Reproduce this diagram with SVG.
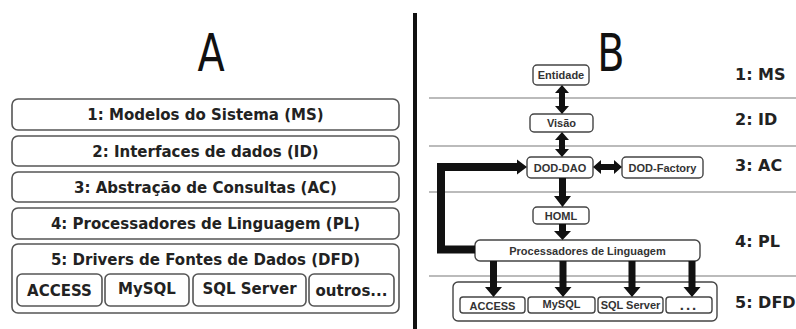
<svg xmlns="http://www.w3.org/2000/svg" width="796" height="329" viewBox="0 0 796 329">
<style>
.bg{fill:#fff}
.lbox{fill:#fff;stroke:#555;stroke-width:1.6}
.ltxt{font-family:"DejaVu Sans",Verdana,sans-serif;font-weight:bold;font-size:15px;fill:#222;text-anchor:middle}
.sbox{fill:#fff;stroke:#444;stroke-width:1.4}
.stxt{font-family:"Liberation Sans",Arial,sans-serif;font-weight:bold;font-size:11px;fill:#333;text-anchor:middle}
.rlab{font-family:"DejaVu Sans",Verdana,sans-serif;font-weight:bold;font-size:16px;fill:#222}
.big{font-family:"DejaVu Sans Condensed","Liberation Sans",sans-serif;font-size:52px;fill:#111;text-anchor:middle}
.sep{stroke:#bbb;stroke-width:2}
.arr{fill:#111}
</style>
<rect class="bg" x="0" y="0" width="796" height="329"/>
<line x1="415" y1="13" x2="415" y2="329" stroke="#111" stroke-width="4"/>
<text class="big" x="211" y="71" transform="translate(211,0) scale(0.85,1) translate(-211,0)">A</text>
<text class="big" x="611" y="71" transform="translate(611,0) scale(0.85,1) translate(-611,0)">B</text>

<g id="panelA">
  <g id="a-ms"><rect class="lbox" x="12" y="99" width="387" height="31" rx="6"/><text class="ltxt" x="205.5" y="120">1: Modelos do Sistema (MS)</text></g>
  <g id="a-id"><rect class="lbox" x="12" y="136" width="387" height="30" rx="6"/><text class="ltxt" x="205.5" y="156.5">2: Interfaces de dados (ID)</text></g>
  <g id="a-ac"><rect class="lbox" x="12" y="172" width="387" height="30" rx="6"/><text class="ltxt" x="205.5" y="192.5">3: Abstração de Consultas (AC)</text></g>
  <g id="a-pl"><rect class="lbox" x="12" y="208" width="387" height="31" rx="6"/><text class="ltxt" x="205.5" y="229">4: Processadores de Linguagem (PL)</text></g>
  <g id="a-dfd"><rect class="lbox" x="12" y="244" width="387" height="69" rx="6"/><text class="ltxt" x="205.5" y="264.5">5: Drivers de Fontes de Dados (DFD)</text></g>
  <g id="a-access"><rect class="lbox" x="17" y="274" width="85" height="32" rx="5"/><text class="ltxt" x="59.5" y="295.5">ACCESS</text></g>
  <g id="a-mysql"><rect class="lbox" x="105" y="274" width="84" height="32" rx="5"/><text class="ltxt" x="147" y="294">MySQL</text></g>
  <g id="a-sqlserver"><rect class="lbox" x="193" y="274" width="113" height="32" rx="5"/><text class="ltxt" x="249.5" y="294">SQL Server</text></g>
  <g id="a-outros"><rect class="lbox" x="309" y="274" width="85" height="32" rx="5"/><text class="ltxt" x="351.5" y="295.5">outros...</text></g>
</g>

<g id="separators">
  <line class="sep" x1="429" y1="98" x2="796" y2="98"/>
  <line class="sep" x1="429" y1="146" x2="796" y2="146"/>
  <line class="sep" x1="429" y1="192" x2="796" y2="192"/>
  <line class="sep" x1="429" y1="276" x2="796" y2="276"/>
</g>

<g id="layer-labels">
  <text class="rlab" x="735" y="80">1: MS</text>
  <text class="rlab" x="735" y="125">2: ID</text>
  <text class="rlab" x="735" y="171">3: AC</text>
  <text class="rlab" x="735" y="247">4: PL</text>
  <text class="rlab" x="735" y="308">5: DFD</text>
</g>

<g id="panelB">
  <g id="b-entidade"><rect class="sbox" x="533" y="65" width="56" height="20" rx="4"/><text class="stxt" x="561" y="79">Entidade</text></g>
  <g id="b-visao"><rect class="sbox" x="530" y="114" width="63" height="18" rx="4"/><text class="stxt" x="561.5" y="127">Visão</text></g>
  <g id="b-doddao"><rect class="sbox" x="527" y="157" width="66" height="21" rx="4"/><text class="stxt" x="560" y="171.5">DOD-DAO</text></g>
  <g id="b-dodfactory"><rect class="sbox" x="622" y="157" width="81" height="21" rx="4"/><text class="stxt" x="662.5" y="171.5">DOD-Factory</text></g>
  <g id="b-homl"><rect class="sbox" x="533" y="207" width="56" height="17" rx="4"/><text class="stxt" x="561" y="219.5">HOML</text></g>
  <g id="b-proc"><rect class="sbox" x="475" y="240" width="225" height="21" rx="5"/><text class="stxt" x="587.5" y="254.5">Processadores de Linguagem</text></g>
  <g id="b-dfd"><rect class="sbox" x="453" y="282" width="264" height="39" rx="5"/></g>
  <g id="b-access"><rect class="sbox" x="460" y="297" width="65" height="16" rx="3"/><text class="stxt" x="492.5" y="309.5">ACCESS</text></g>
  <g id="b-mysql"><rect class="sbox" x="528" y="297" width="67" height="16" rx="3"/><text class="stxt" x="561.5" y="308">MySQL</text></g>
  <g id="b-sqlserver"><rect class="sbox" x="598" y="297" width="65" height="16" rx="3"/><text class="stxt" x="630.5" y="309">SQL Server</text></g>
  <g id="b-more"><rect class="sbox" x="666" y="297" width="46" height="16" rx="3"/><text class="stxt" x="689" y="309.5" style="font-size:15px;font-weight:900;letter-spacing:2px">...</text></g>
</g>

<g id="connectors">
  <polygon class="arr" points="562,85 569,93 565,93 565,106 569,106 562,114 555,106 559,106 559,93 555,93"/>
  <polygon class="arr" points="562,132 569,140 565,140 565,149 569,149 562,157 555,149 559,149 559,140 555,140"/>
  <polygon class="arr" points="593,167 601,160 601,164 614,164 614,160 622,167 614,174 614,170 601,170 601,174"/>
  <polygon class="arr" points="559,178 566,178 566,196 571,196 562.5,207 554,196 559,196"/>
  <polygon class="arr" points="559,224 566,224 566,231 571,231 562.5,240 554,231 559,231"/>
  <polygon class="arr" points="490,261 497,261 497,287 502,287 493.5,297 485,287 490,287"/>
  <polygon class="arr" points="559.5,261 566.5,261 566.5,287 571.5,287 563,297 554.5,287 559.5,287"/>
  <polygon class="arr" points="628.5,261 635.5,261 635.5,287 640.5,287 632,297 623.5,287 628.5,287"/>
  <polygon class="arr" points="688.5,261 695.5,261 695.5,287 700.5,287 692,297 683.5,287 688.5,287"/>
  <polyline points="475,249.5 441,249.5 441,167 518,167" fill="none" stroke="#111" stroke-width="8"/>
  <polygon class="arr" points="517,159.5 527,167 517,174.5"/>
</g>
</svg>
